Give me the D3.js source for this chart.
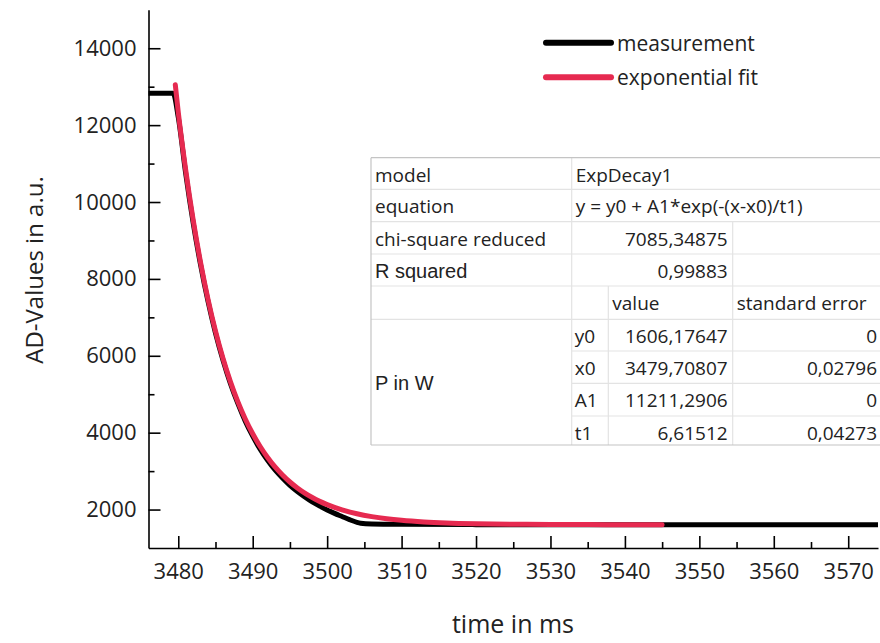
<!DOCTYPE html>
<html>
<head>
<meta charset="utf-8">
<script src="https://cdn.jsdelivr.net/npm/d3@7"></script>
<style>
  body { margin: 0; background: #fff; }
  svg text { font-family: "Open Sans", sans-serif; fill: #222; }
</style>
</head>
<body>
<div id="chart"></div>
<script>
// measurement (time in ms, AD value)
const measTime = [3476, 3479.3, 3480, 3481, 3482, 3483, 3484, 3485, 3486, 3487, 3488, 3489, 3490,
                  3491, 3492, 3493, 3494, 3495, 3496, 3497, 3498, 3499, 3500, 3501, 3502, 3503,
                  3504.5, 3506, 3510, 3520, 3540, 3574]
const measValue = [12830, 12830, 12200, 10740, 9460, 8360, 7410, 6590, 5890, 5280, 4760, 4300, 3910,
                   3570, 3280, 3030, 2820, 2630, 2470, 2330, 2200, 2090, 1990, 1900, 1820, 1740,
                   1645, 1625, 1615, 1608, 1605, 1605]

// exponential fit
const fitTime = [3479.6, 3480, 3481, 3482, 3483, 3484, 3485, 3486, 3487, 3488, 3489, 3490,
                 3491, 3492, 3493, 3494, 3495, 3496, 3497, 3498, 3499, 3500, 3502, 3504,
                 3506, 3508, 3510, 3513, 3516, 3520, 3525, 3530, 3535, 3540, 3545]
const fitValue = [13050, 12333, 10828, 9533, 8422, 7466, 6643, 5937, 5329, 4807, 4357, 3972,
                  3640, 3355, 3109, 2899, 2717, 2561, 2427, 2312, 2213, 2128, 1992, 1891,
                  1817, 1762, 1721, 1679, 1652, 1631, 1618, 1612, 1609, 1607, 1606]

const seriesNames = ["measurement", "exponential fit"]
const seriesColors = ["#000000", "#e62a50"]

const xMajor = d3.range(3480, 3571, 10)
const xMinor = d3.range(3485, 3570, 10)
const yMajor = d3.range(2000, 14001, 2000)
const yMinor = d3.range(3000, 14000, 2000)

// fit result table
const tableTop = [
  ["model", "ExpDecay1"],
  ["equation", "y = y0 + A1*exp(-(x-x0)/t1)"]
]
const tableStats = [
  ["chi-square reduced", "7085,34875"],
  ["R squared", "0,99883"]
]
const paramHeader = ["value", "standard error"]
const paramGroup = "P in W"
const paramNames = ["y0", "x0", "A1", "t1"]
const paramValues = ["1606,17647", "3479,70807", "11211,2906", "6,61512"]
const paramErrors = ["0", "0,02796", "0", "0,04273"]

const width = 880, height = 643
const svg = d3.select("#chart").append("svg")
  .attr("width", width)
  .attr("height", height)

const x = d3.scaleLinear().domain([3476, 3574]).range([148.5, 878])
const y = d3.scaleLinear().domain([1000, 15000]).range([548, 9.8])

// axes, ticks pointing inward
const xAxis = svg.append("g").attr("transform", "translate(0,548)")
  .call(d3.axisBottom(x).tickValues(xMajor).tickSizeInner(-12).tickSizeOuter(0).tickPadding(15).tickFormat(d3.format("d")))
xAxis.append("g")
  .call(d3.axisBottom(x).tickValues(xMinor).tickSizeInner(-6).tickSizeOuter(0).tickFormat(""))
  .select(".domain").remove()

const yAxis = svg.append("g").attr("transform", "translate(148.5,0)")
  .call(d3.axisLeft(y).tickValues(yMajor).tickSizeInner(-12).tickSizeOuter(0).tickPadding(12).tickFormat(d3.format("d")))
yAxis.append("g")
  .call(d3.axisLeft(y).tickValues(yMinor).tickSizeInner(-6).tickSizeOuter(0).tickFormat(""))
  .select(".domain").remove()

svg.selectAll(".domain, .tick line").attr("stroke", "#000").attr("stroke-width", 1.6)
svg.selectAll(".tick text")
  .style("font-family", "'Open Sans', sans-serif")
  .style("font-size", "22px")
  .attr("fill", "#222")

// axis titles
svg.append("text")
  .attr("x", 513).attr("y", 633)
  .attr("text-anchor", "middle")
  .style("font-size", "25px")
  .text("time in ms")

svg.append("text")
  .attr("transform", "translate(43,270) rotate(-90)")
  .attr("text-anchor", "middle")
  .style("font-size", "24px")
  .text("AD-Values in a.u.")

// lines
const line = d3.line().x(d => x(d[0])).y(d => y(d[1])).curve(d3.curveMonotoneX)
const measData = measTime.map((t, i) => [t, measValue[i]])
const fitData = fitTime.map((t, i) => [t, fitValue[i]])

svg.append("path")
  .attr("d", line(measData))
  .attr("fill", "none")
  .attr("stroke", seriesColors[0])
  .attr("stroke-width", 5)
  .attr("stroke-linejoin", "round")

svg.append("path")
  .attr("d", line(fitData))
  .attr("fill", "none")
  .attr("stroke", seriesColors[1])
  .attr("stroke-width", 5)
  .attr("stroke-linecap", "round")
  .attr("stroke-linejoin", "round")

// legend
const legend = svg.append("g")
seriesNames.forEach((name, i) => {
  let ly = 42.7 + i * 34.6
  legend.append("line")
    .attr("x1", 546).attr("x2", 611)
    .attr("y1", ly).attr("y2", ly)
    .attr("stroke", seriesColors[i])
    .attr("stroke-width", 6)
    .attr("stroke-linecap", "round")
  legend.append("text")
    .attr("x", 617).attr("y", ly + 8)
    .style("font-size", "21px")
    .text(name)
})

// table
const tb = svg.append("g")
const rowY = [157.7, 189.3, 221.7, 254, 286, 319.3, 351, 383.3, 416, 445]
const colX = [371, 571.7, 608.3, 732.7, 884]
const grid = "#e3e3e3"

tb.append("rect")
  .attr("x", colX[0]).attr("y", rowY[0])
  .attr("width", colX[4] - colX[0]).attr("height", rowY[9] - rowY[0])
  .attr("fill", "#fff")

function hline(x1, x2, yy, c) {
  tb.append("line").attr("x1", x1).attr("x2", x2).attr("y1", yy).attr("y2", yy)
    .attr("stroke", c || grid).attr("stroke-width", 1.2)
}
function vline(xx, y1, y2, c) {
  tb.append("line").attr("x1", xx).attr("x2", xx).attr("y1", y1).attr("y2", y2)
    .attr("stroke", c || grid).attr("stroke-width", 1.2)
}
for (let i = 1; i < 9; i++) {
  if (i >= 6) hline(colX[1], colX[4], rowY[i])
  else hline(colX[0], colX[4], rowY[i])
}
vline(colX[1], rowY[0], rowY[9])
vline(colX[2], rowY[4], rowY[9])
vline(colX[3], rowY[2], rowY[9])
hline(colX[0], colX[4], rowY[0], "#c4c4c4")
hline(colX[0], colX[4], rowY[9], "#c4c4c4")
vline(colX[0], rowY[0], rowY[9], "#c4c4c4")

function cell(txt, xx, row, anchor, arial) {
  let t = tb.append("text")
    .attr("x", xx).attr("y", rowY[row] + 24)
    .attr("text-anchor", anchor || "start")
    .style("font-size", "19px")
    .text(txt)
  if (arial) t.style("font-family", "'Liberation Sans', Arial, sans-serif").style("font-size", "20px").attr("fill", "#000")
  return t
}
tableTop.forEach((r, i) => {
  cell(r[0], colX[0] + 4, i)
  cell(r[1], colX[1] + 4, i)
})
tableStats.forEach((r, i) => {
  cell(r[0], colX[0] + 4, 2 + i, "start", i == 1)
  cell(r[1], colX[3] - 5, 2 + i, "end")
})
cell(paramHeader[0], colX[2] + 4, 4)
cell(paramHeader[1], colX[3] + 4, 4)
paramNames.forEach((p, i) => {
  cell(p, colX[1] + 3, 5 + i)
  cell(paramValues[i], colX[3] - 5, 5 + i, "end")
  cell(paramErrors[i], 877, 5 + i, "end")
})
tb.append("text")
  .attr("x", colX[0] + 4).attr("y", 389.5)
  .style("font-family", "'Liberation Sans', Arial, sans-serif")
  .style("font-size", "20px")
  .attr("fill", "#000")
  .text(paramGroup)
</script>
</body>
</html>
